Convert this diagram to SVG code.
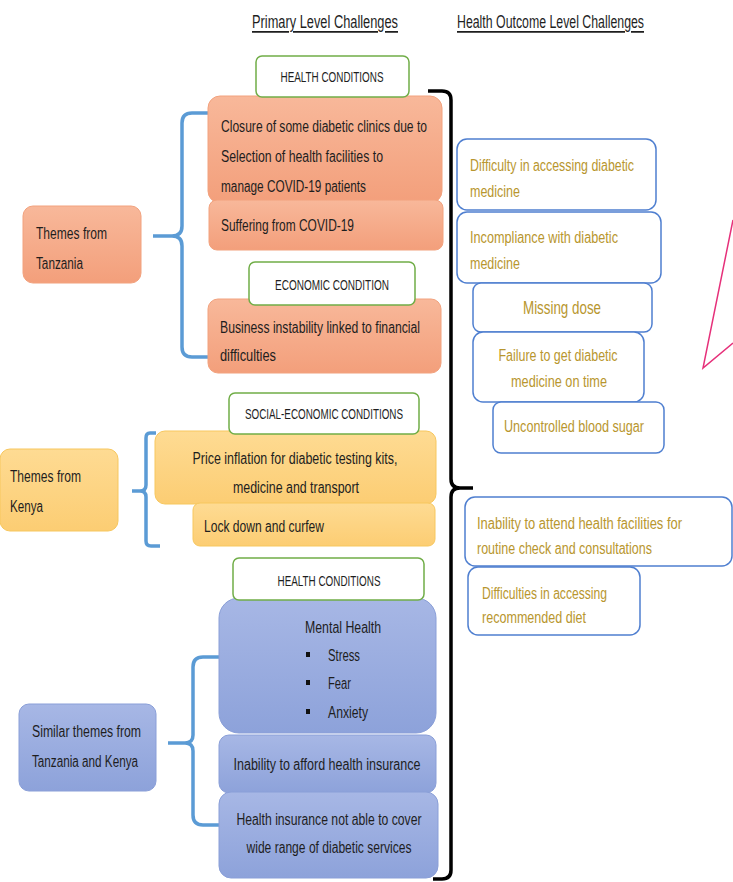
<svg xmlns="http://www.w3.org/2000/svg" width="733" height="882" viewBox="0 0 733 882">
<defs>
<linearGradient id="og" x1="0" y1="0" x2="0" y2="1"><stop offset="0" stop-color="#f8b89a"/><stop offset="1" stop-color="#f39f7b"/></linearGradient>
<linearGradient id="yg" x1="0" y1="0" x2="0" y2="1"><stop offset="0" stop-color="#fedb93"/><stop offset="1" stop-color="#fccd73"/></linearGradient>
<linearGradient id="bg" x1="0" y1="0" x2="0" y2="1"><stop offset="0" stop-color="#a7b7e5"/><stop offset="1" stop-color="#8da2da"/></linearGradient>
</defs>
<style>
.t{font-family:"Liberation Sans Narrow","Liberation Sans",Arial,sans-serif;font-size:16px;fill:#1e1e1e;dominant-baseline:central}
.h{font-size:14px}
.hd{font-size:17.5px;text-decoration:underline}
.g{fill:#b8962e}
.c{text-anchor:middle}
.gb{fill:#fff;stroke:#70ad47;stroke-width:1.5}
.ob{fill:url(#og);stroke:#f2a27e;stroke-width:1}
.yb{fill:url(#yg);stroke:#f7c75e;stroke-width:1}
.bb{fill:url(#bg);stroke:#8a9fd8;stroke-width:1}
.wb{fill:#fff;stroke:#4f7fd0;stroke-width:1.5}
.br{fill:none;stroke:#5b9bd5;stroke-width:3.5;stroke-linejoin:round}
.bk{fill:none;stroke:#000;stroke-width:3.5;stroke-linejoin:round}
</style>

<g id="headers">
<text class="t hd" x="252" y="22" textLength="146" lengthAdjust="spacingAndGlyphs">Primary Level Challenges</text>
<text class="t hd" x="457" y="22" textLength="187" lengthAdjust="spacingAndGlyphs">Health Outcome Level Challenges</text>
</g>

<g id="connectors">
<path class="br" d="M208,113 L192,113 Q182,113 182,123 L182,226 Q182,236 172,236 L153,236 M172,236 Q182,236 182,246 L182,347 Q182,357 192,357 L208,357"/>
<path class="br" d="M156,433 L150,433 Q146,433 146,438 L146,485 Q146,491 140,491 L132,491 M140,491 Q146,491 146,497 L146,541 Q146,546 151,546 L160,546"/>
<path class="br" d="M219,657 L203,657 Q193,657 193,667 L193,735 Q193,743 185,743 L168,743 M185,743 Q193,743 193,751 L193,815 Q193,825 203,825 L219,825"/>
<path class="bk" d="M428,91 L442,91 Q451,91 451,100 L451,479 Q451,488 460,488 L473,488 M460,488 Q451,488 451,497 L451,870 Q451,879 442,879 L433,879"/>
</g>

<g id="arrow-shape">
<path d="M733,220 L703,368 L733,343" fill="none" stroke="#e6307a" stroke-width="1.5"/>
</g>

<g id="tz-themes">
<rect class="ob" x="23" y="206" width="118" height="77" rx="10"/>
<text class="t" x="36" y="233" textLength="71" lengthAdjust="spacingAndGlyphs">Themes from</text>
<text class="t" x="36" y="263" textLength="47" lengthAdjust="spacingAndGlyphs">Tanzania</text>
</g>
<g id="tz-closure">
<rect class="ob" x="208" y="96" width="234" height="107" rx="12"/>
<text class="t" x="221" y="126" textLength="206" lengthAdjust="spacingAndGlyphs">Closure of some diabetic clinics due to</text>
<text class="t" x="221" y="156" textLength="162" lengthAdjust="spacingAndGlyphs">Selection of health facilities to</text>
<text class="t" x="221" y="186" textLength="145" lengthAdjust="spacingAndGlyphs">manage COVID-19 patients</text>
</g>
<g id="tz-health-conditions">
<rect class="gb" x="256" y="56" width="153" height="41" rx="6"/>
<text class="t h c" x="332" y="77" textLength="103" lengthAdjust="spacingAndGlyphs">HEALTH CONDITIONS</text>
</g>
<g id="tz-covid">
<rect class="ob" x="209" y="200" width="234" height="50" rx="8"/>
<text class="t" x="221" y="225" textLength="133" lengthAdjust="spacingAndGlyphs">Suffering from COVID-19</text>
</g>
<g id="tz-business">
<rect class="ob" x="208" y="299" width="233" height="74" rx="10"/>
<text class="t" x="220" y="327" textLength="200" lengthAdjust="spacingAndGlyphs">Business instability linked to financial</text>
<text class="t" x="220" y="355" textLength="56" lengthAdjust="spacingAndGlyphs">difficulties</text>
</g>
<g id="tz-economic">
<rect class="gb" x="249" y="262" width="166" height="43" rx="6"/>
<text class="t h c" x="332" y="285" textLength="114" lengthAdjust="spacingAndGlyphs">ECONOMIC CONDITION</text>
</g>

<g id="ke-themes">
<rect class="yb" x="0" y="449" width="118" height="82" rx="10"/>
<text class="t" x="10" y="476" textLength="71" lengthAdjust="spacingAndGlyphs">Themes from</text>
<text class="t" x="10" y="506" textLength="33" lengthAdjust="spacingAndGlyphs">Kenya</text>
</g>
<g id="ke-price">
<rect class="yb" x="155" y="431" width="281" height="73" rx="10"/>
<text class="t c" x="295" y="458" textLength="205" lengthAdjust="spacingAndGlyphs">Price inflation for diabetic testing kits,</text>
<text class="t c" x="296" y="487" textLength="126" lengthAdjust="spacingAndGlyphs">medicine and transport</text>
</g>
<g id="ke-social">
<rect class="gb" x="229" y="393" width="190" height="41" rx="6"/>
<text class="t h c" x="324" y="414" textLength="158" lengthAdjust="spacingAndGlyphs">SOCIAL-ECONOMIC CONDITIONS</text>
</g>
<g id="ke-lockdown">
<rect class="yb" x="193" y="503" width="242" height="43" rx="7"/>
<text class="t" x="204" y="526" textLength="120" lengthAdjust="spacingAndGlyphs">Lock down and curfew</text>
</g>

<g id="sim-themes">
<rect class="bb" x="19" y="704" width="137" height="87" rx="10"/>
<text class="t" x="32" y="731" textLength="109" lengthAdjust="spacingAndGlyphs">Similar themes from</text>
<text class="t" x="32" y="761" textLength="106" lengthAdjust="spacingAndGlyphs">Tanzania and Kenya</text>
</g>
<g id="sim-mental">
<rect class="bb" x="219" y="598" width="217" height="135" rx="20"/>
<text class="t" x="305" y="627" textLength="76" lengthAdjust="spacingAndGlyphs">Mental Health</text>
<rect x="306" y="652" width="4" height="5" fill="#111"/>
<text class="t" x="328" y="655" textLength="32" lengthAdjust="spacingAndGlyphs">Stress</text>
<rect x="306" y="680" width="4" height="5" fill="#111"/>
<text class="t" x="328" y="683" textLength="23" lengthAdjust="spacingAndGlyphs">Fear</text>
<rect x="306" y="709" width="4" height="5" fill="#111"/>
<text class="t" x="328" y="712" textLength="40" lengthAdjust="spacingAndGlyphs">Anxiety</text>
</g>
<g id="sim-health-conditions">
<rect class="gb" x="233" y="558" width="191" height="42" rx="6"/>
<text class="t h c" x="329" y="581" textLength="103" lengthAdjust="spacingAndGlyphs">HEALTH CONDITIONS</text>
</g>
<g id="sim-afford">
<rect class="bb" x="219" y="735" width="217" height="58" rx="10"/>
<text class="t c" x="327" y="764" textLength="187" lengthAdjust="spacingAndGlyphs">Inability to afford health insurance</text>
</g>
<g id="sim-cover">
<rect class="bb" x="219" y="792" width="219" height="86" rx="12"/>
<text class="t c" x="329" y="819" textLength="185" lengthAdjust="spacingAndGlyphs">Health insurance not able to cover</text>
<text class="t c" x="329" y="847" textLength="165" lengthAdjust="spacingAndGlyphs">wide range of diabetic services</text>
</g>

<g id="out-access">
<rect class="wb" x="457" y="139" width="199" height="71" rx="10"/>
<text class="t g" x="470" y="165" textLength="164" lengthAdjust="spacingAndGlyphs">Difficulty in accessing diabetic</text>
<text class="t g" x="470" y="191" textLength="50" lengthAdjust="spacingAndGlyphs">medicine</text>
</g>
<g id="out-incompliance">
<rect class="wb" x="457" y="212" width="204" height="71" rx="10"/>
<text class="t g" x="470" y="237" textLength="148" lengthAdjust="spacingAndGlyphs">Incompliance with diabetic</text>
<text class="t g" x="470" y="263" textLength="50" lengthAdjust="spacingAndGlyphs">medicine</text>
</g>
<g id="out-missing">
<rect class="wb" x="473" y="283" width="179" height="49" rx="8"/>
<text class="t g c" x="562" y="308" style="font-size:17.5px" textLength="78" lengthAdjust="spacingAndGlyphs">Missing dose</text>
</g>
<g id="out-failure">
<rect class="wb" x="473" y="332" width="171" height="70" rx="10"/>
<text class="t g c" x="558" y="355" textLength="119" lengthAdjust="spacingAndGlyphs">Failure to get diabetic</text>
<text class="t g c" x="559" y="381" textLength="96" lengthAdjust="spacingAndGlyphs">medicine on time</text>
</g>
<g id="out-sugar">
<rect class="wb" x="493" y="402" width="171" height="51" rx="8"/>
<text class="t g c" x="574" y="426" textLength="140" lengthAdjust="spacingAndGlyphs">Uncontrolled blood sugar</text>
</g>
<g id="out-attend">
<rect class="wb" x="465" y="497" width="267" height="69" rx="10"/>
<text class="t g" x="477" y="523" textLength="205" lengthAdjust="spacingAndGlyphs">Inability to attend health facilities for</text>
<text class="t g" x="477" y="548" textLength="175" lengthAdjust="spacingAndGlyphs">routine check and consultations</text>
</g>
<g id="out-diet">
<rect class="wb" x="468" y="567" width="172" height="68" rx="10"/>
<text class="t g" x="482" y="593" textLength="125" lengthAdjust="spacingAndGlyphs">Difficulties in accessing</text>
<text class="t g" x="482" y="617" textLength="104" lengthAdjust="spacingAndGlyphs">recommended diet</text>
</g>
</svg>
